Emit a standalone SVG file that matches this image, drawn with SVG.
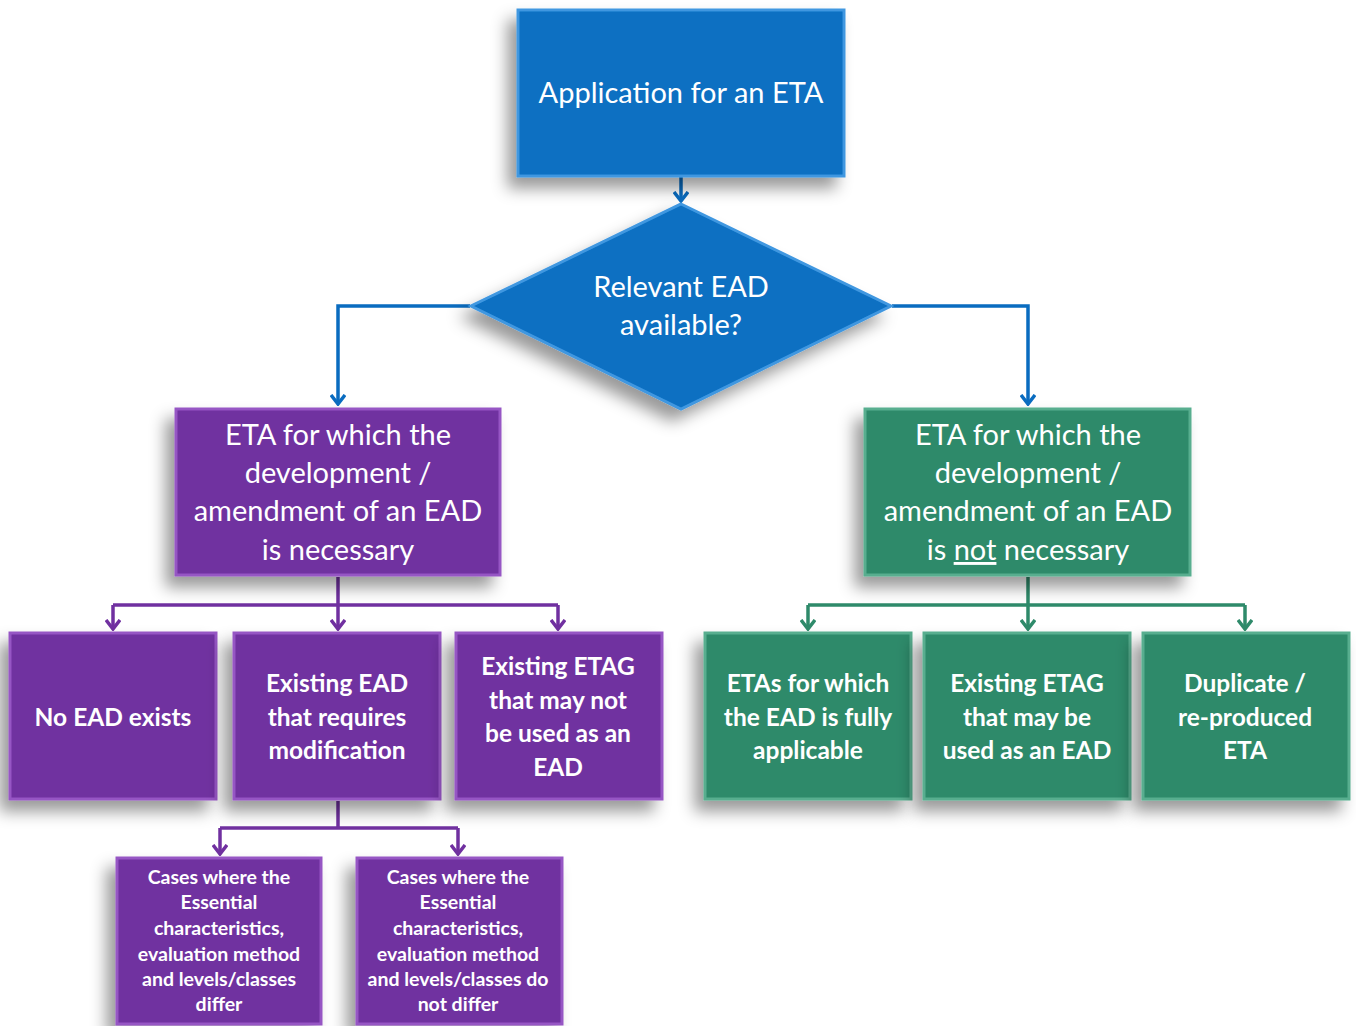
<svg xmlns="http://www.w3.org/2000/svg" width="1356" height="1026" viewBox="0 0 1356 1026">
<defs>
<filter id="sh" x="-20%" y="-20%" width="140%" height="150%">
<feDropShadow dx="-9" dy="11" stdDeviation="8" flood-color="#000" flood-opacity="0.4"/>
</filter>
<marker id="ab" viewBox="0 0 16 12" refX="8" refY="10" markerWidth="16" markerHeight="12" markerUnits="userSpaceOnUse">
<path d="M1,1 L8,10 L15,1" fill="none" stroke="#0A6CC0" stroke-width="3.5"/>
</marker>
<marker id="ap" viewBox="0 0 16 12" refX="8" refY="10" markerWidth="16" markerHeight="12" markerUnits="userSpaceOnUse">
<path d="M1,1 L8,10 L15,1" fill="none" stroke="#7030A0" stroke-width="3.5"/>
</marker>
<marker id="ag" viewBox="0 0 16 12" refX="8" refY="10" markerWidth="16" markerHeight="12" markerUnits="userSpaceOnUse">
<path d="M1,1 L8,10 L15,1" fill="none" stroke="#2E8A6A" stroke-width="3.5"/>
</marker>
</defs>
<style>
.blue{fill:#0A6FC2;stroke:#3F97E0;stroke-width:3}
.pur{fill:#7030A0;stroke:#9657C4;stroke-width:3}
.grn{fill:#2F8A6B;stroke:#58AE8F;stroke-width:3}
.t{font-family:Lato,"Open Sans","Liberation Sans",sans-serif;fill:#fff;text-anchor:middle}
.big{font-size:29px}
.mid{font-size:24.5px;font-weight:bold}
.sm{font-size:19.5px;font-weight:bold}
.cb{fill:none;stroke:#0A6CC0;stroke-width:3.5}
.cp{fill:none;stroke:#7030A0;stroke-width:3.5}
.cg{fill:none;stroke:#2E8A6A;stroke-width:3.5}
</style>
<rect width="1356" height="1026" fill="#fff"/>

<g id="connectors">
<path class="cb" d="M681,177 V201" marker-end="url(#ab)"/>
<path class="cb" d="M470,306 H338 V404" marker-end="url(#ab)"/>
<path class="cb" d="M892,306 H1028 V404" marker-end="url(#ab)"/>
<path class="cp" d="M338,577 V605"/>
<path class="cp" d="M113,605 H558"/>
<path class="cp" d="M113,605 V629" marker-end="url(#ap)"/>
<path class="cp" d="M338,605 V629" marker-end="url(#ap)"/>
<path class="cp" d="M558,605 V629" marker-end="url(#ap)"/>
<path class="cg" d="M1028,577 V605"/>
<path class="cg" d="M808,605 H1245"/>
<path class="cg" d="M808,605 V629" marker-end="url(#ag)"/>
<path class="cg" d="M1028,605 V629" marker-end="url(#ag)"/>
<path class="cg" d="M1245,605 V629" marker-end="url(#ag)"/>
<path class="cp" d="M338,801 V828"/>
<path class="cp" d="M220,828 H458"/>
<path class="cp" d="M220,828 V854" marker-end="url(#ap)"/>
<path class="cp" d="M458,828 V854" marker-end="url(#ap)"/>
</g>

<g id="n-application">
<rect class="blue" x="518" y="10" width="326" height="166" filter="url(#sh)"/>
<text class="t big" x="681" y="103">Application for an ETA</text>
</g>

<g id="n-relevant">
<polygon class="blue" points="681,204 891,306 681,409 471,306" filter="url(#sh)" stroke="none"/>
<text class="t big" x="681" y="297">Relevant EAD</text>
<text class="t big" x="681" y="335">available?</text>
</g>

<g id="n-necessary">
<rect class="pur" x="176" y="409" width="324" height="166" filter="url(#sh)"/>
<text class="t big" x="338" y="445">ETA for which the</text>
<text class="t big" x="338" y="483">development /</text>
<text class="t big" x="338" y="521">amendment of an EAD</text>
<text class="t big" x="338" y="560">is necessary</text>
</g>

<g id="n-not-necessary">
<rect class="grn" x="865" y="409" width="325" height="166" filter="url(#sh)"/>
<text class="t big" x="1028" y="445">ETA for which the</text>
<text class="t big" x="1028" y="483">development /</text>
<text class="t big" x="1028" y="521">amendment of an EAD</text>
<text class="t big" x="1028" y="560">is <tspan text-decoration="underline">not</tspan> necessary</text>
</g>

<g id="n-no-ead">
<rect class="pur" x="10" y="633" width="206" height="166" filter="url(#sh)"/>
<text class="t mid" x="113" y="726">No EAD exists</text>
</g>

<g id="n-existing-ead">
<rect class="pur" x="234" y="633" width="206" height="166" filter="url(#sh)"/>
<text class="t mid" x="337" y="692">Existing EAD</text>
<text class="t mid" x="337" y="726">that requires</text>
<text class="t mid" x="337" y="759">modification</text>
</g>

<g id="n-etag-not">
<rect class="pur" x="456" y="633" width="206" height="166" filter="url(#sh)"/>
<text class="t mid" x="558" y="675">Existing ETAG</text>
<text class="t mid" x="558" y="709">that may not</text>
<text class="t mid" x="558" y="742">be used as an</text>
<text class="t mid" x="558" y="776">EAD</text>
</g>

<g id="n-fully">
<rect class="grn" x="705" y="633" width="206" height="166" filter="url(#sh)"/>
<text class="t mid" x="808" y="692">ETAs for which</text>
<text class="t mid" x="808" y="726">the EAD is fully</text>
<text class="t mid" x="808" y="759">applicable</text>
</g>

<g id="n-etag-may">
<rect class="grn" x="924" y="633" width="206" height="166" filter="url(#sh)"/>
<text class="t mid" x="1027" y="692">Existing ETAG</text>
<text class="t mid" x="1027" y="726">that may be</text>
<text class="t mid" x="1027" y="759">used as an EAD</text>
</g>

<g id="n-duplicate">
<rect class="grn" x="1143" y="633" width="206" height="166" filter="url(#sh)"/>
<text class="t mid" x="1245" y="692">Duplicate /</text>
<text class="t mid" x="1245" y="726">re-produced</text>
<text class="t mid" x="1245" y="759">ETA</text>
</g>

<g id="n-differ">
<rect class="pur" x="117" y="858" width="204" height="166" filter="url(#sh)"/>
<text class="t sm" x="219" y="884">Cases where the</text>
<text class="t sm" x="219" y="909">Essential</text>
<text class="t sm" x="219" y="935">characteristics,</text>
<text class="t sm" x="219" y="961">evaluation method</text>
<text class="t sm" x="219" y="986">and levels/classes</text>
<text class="t sm" x="219" y="1011">differ</text>
</g>

<g id="n-not-differ">
<rect class="pur" x="357" y="858" width="205" height="166" filter="url(#sh)"/>
<text class="t sm" x="458" y="884">Cases where the</text>
<text class="t sm" x="458" y="909">Essential</text>
<text class="t sm" x="458" y="935">characteristics,</text>
<text class="t sm" x="458" y="961">evaluation method</text>
<text class="t sm" x="458" y="986">and levels/classes do</text>
<text class="t sm" x="458" y="1011">not differ</text>
</g>
</svg>
